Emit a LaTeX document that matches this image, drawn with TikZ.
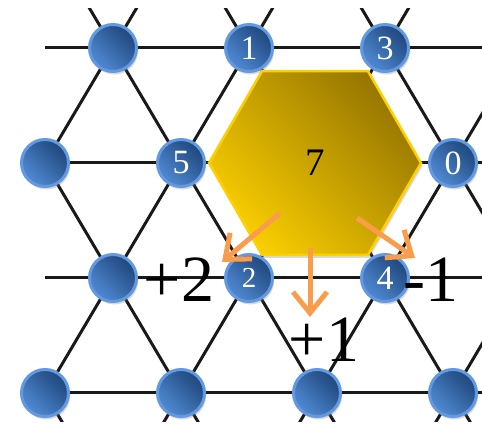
\documentclass[tikz,border=0pt]{standalone}
\usepackage{fontspec}
\setmainfont{Liberation Serif}
\usepackage{tikz}
\usetikzlibrary{shapes.geometric,shadows,arrows.meta}
\definecolor{balllight}{HTML}{508AD4}
\definecolor{balldark}{HTML}{1F477C}
\definecolor{ballrim}{HTML}{6299E0}
\definecolor{hexbright}{HTML}{F9CE00}
\definecolor{hexdark}{HTML}{967600}
\definecolor{hexrim}{HTML}{FFD000}
\definecolor{pushorange}{HTML}{F99D4C}

\begin{document}
\begin{tikzpicture}[x=1pt,y=-1pt,
  grid/.style={line width=3pt,black!90},
  ball/.style={circle,minimum size=47pt,inner sep=0pt,line width=3pt,draw=ballrim,
    top color=balldark,bottom color=balllight,shading angle=-45,
    drop shadow={opacity=0.3,shadow xshift=1.5pt,shadow yshift=-3pt},
    text=white,font=\fontsize{34}{34}\selectfont},
  hexa/.style={regular polygon,regular polygon sides=6,minimum size=212pt,inner sep=0pt,
    line width=2.5pt,draw=hexrim,top color=hexdark,bottom color=hexbright,shading angle=-45,
    drop shadow={opacity=0.3,shadow xshift=1.5pt,shadow yshift=-3pt},
    font=\fontsize{39}{39}\selectfont},
  push/.style={line width=5pt,pushorange,-{Straight Barb[length=21pt,width=34pt]}},
  big/.style={font=\fontsize{66}{66}\selectfont}]
\useasboundingbox (0,0) rectangle (482,435);

% lattice ends, above and below the picture
\coordinate (t1) at (-227,-67);
\coordinate (t2) at (-91,-67);
\coordinate (t3) at (45,-67);
\coordinate (t4) at (181,-67);
\coordinate (t5) at (317,-67);
\coordinate (t6) at (453,-67);
\coordinate (t7) at (589,-67);
\coordinate (t8) at (725,-67);
\coordinate (b1) at (-159,508);
\coordinate (b2) at (-23,508);
\coordinate (b3) at (113,508);
\coordinate (b4) at (249,508);
\coordinate (b5) at (385,508);
\coordinate (b6) at (521,508);
\coordinate (b7) at (657,508);

% row ends
\coordinate (w1) at (-23,48);  \coordinate (e1) at (521,48);
\coordinate (w2) at (-91,163); \coordinate (e2) at (589,163);
\coordinate (w3) at (-23,278); \coordinate (e3) at (521,278);
\coordinate (w4) at (-91,393); \coordinate (e4) at (589,393);

% lattice lines
\begin{scope}
\clip (45,9) rectangle (482,422);
\draw[grid] (w1)--(e1);
\draw[grid] (w2)--(e2);
\draw[grid] (w3)--(e3);
\draw[grid] (w4)--(e4);

\draw[grid] (t1)--(b3);
\draw[grid] (t2)--(b4);
\draw[grid] (t3)--(b5);
\draw[grid] (t4)--(b6);
\draw[grid] (t5)--(b7);

\draw[grid] (t4)--(b1);
\draw[grid] (t5)--(b2);
\draw[grid] (t6)--(b3);
\draw[grid] (t7)--(b4);
\draw[grid] (t8)--(b5);
\end{scope}

% row 1
\node[ball] (p1) at (113,48) {};
\node[ball] (one) at (249,48) {1};
\node[ball] (three) at (385,48) {3};

% row 2
\node[ball] (p2) at (45,163) {};
\node[ball] (five) at (181,163) {5};
\node[ball] (zero) at (453,163) {0};

% row 3
\node[ball] (p3) at (113,278) {};
\node[ball,font=\fontsize{29}{29}\selectfont] (two) at (249,278) {2};
\node[ball] (four) at (385,278) {4};

% row 4
\node[ball] (p4) at (45,393) {};
\node[ball] (p5) at (181,393) {};
\node[ball] (p6) at (317,393) {};
\node[ball] (p7) at (453,393) {};

% the hexagon
\node[hexa] (hex) at (315,163) {7};

% moves
\coordinate (m1) at (280,213);
\coordinate (m1end) at (222,262);
\coordinate (m2) at (310,248);
\coordinate (m2end) at (310,317);
\coordinate (m3) at (357,218);
\coordinate (m3end) at (415,258);
\draw[push] (m1)--(m1end);
\draw[push] (m2)--(m2end);
\draw[push] (m3)--(m3end);

\node[big] (plustwo) at (179,280) {+2};
\node[big] (plusone) at (324,340) {+1};
\node[big] (minusone) at (431,280) {-1};
\end{tikzpicture}
\end{document}
